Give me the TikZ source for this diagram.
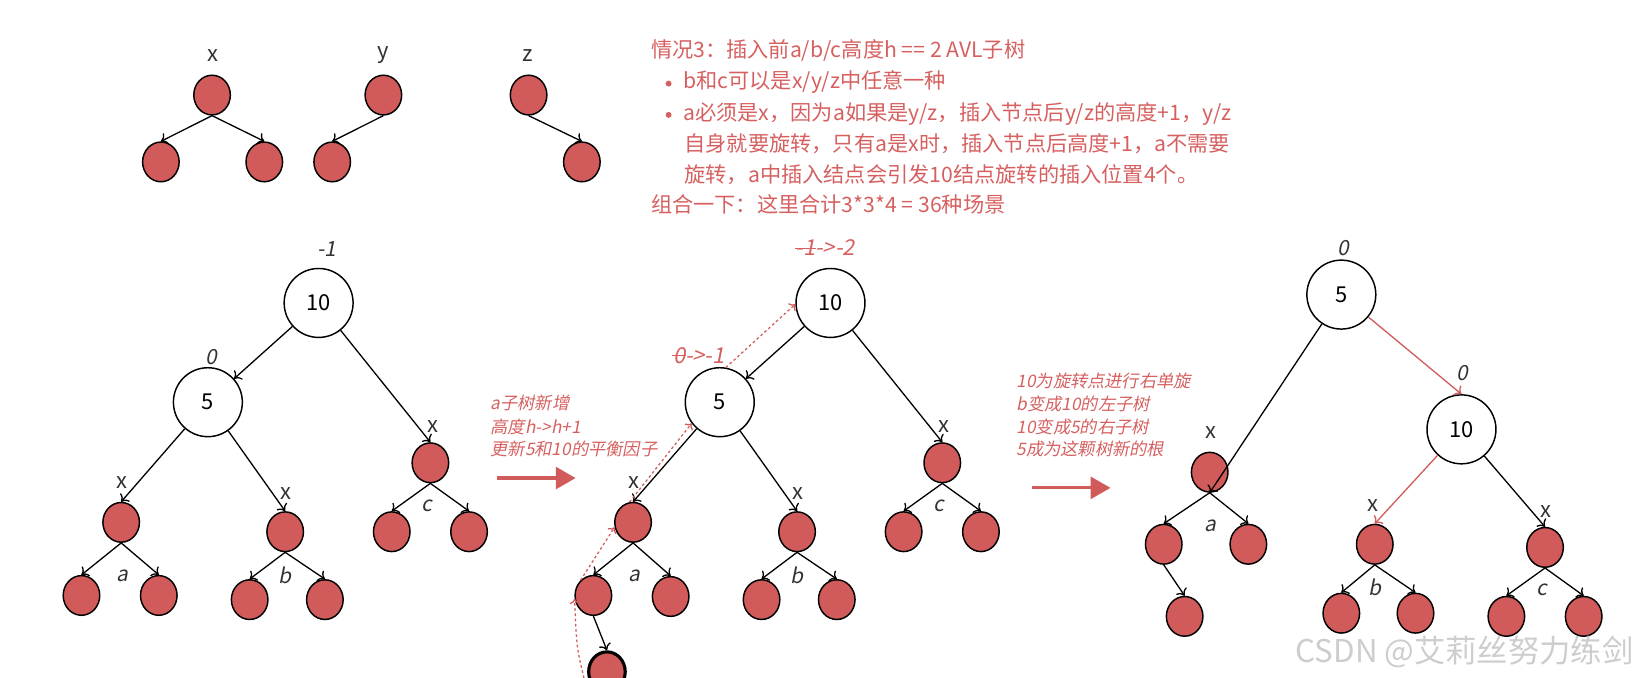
\documentclass[tikz,border=0pt]{standalone}
\usepackage{fontspec}
\setmainfont{Noto Sans CJK SC}
\newfontfamily\itf[FakeSlant=0.2]{Noto Sans CJK SC}
\usetikzlibrary{arrows.meta,shapes.geometric}
\definecolor{rd}{RGB}{209,91,91}
\definecolor{rdt}{RGB}{214,96,96}
\definecolor{dk}{RGB}{51,51,51}
\definecolor{wm}{RGB}{205,205,205}
\newcommand{\myfs}[1]{\fontsize{#1}{#1}\selectfont}
\newcommand{\mystrk}[1]{\setbox0\hbox{#1}\rlap{\kern-1pt\rule[0.3em]{\dimexpr\wd0+2pt\relax}{1.1pt}}\box0}
\begin{document}
\begin{tikzpicture}[x=1pt,y=-1pt,
  rn/.style={ellipse,draw=black,line width=1.4pt,fill=rd,minimum width=35pt,minimum height=38pt,inner sep=0pt},
  wn/.style={circle,draw=black,line width=1.4pt,fill=white,minimum size=66pt,inner sep=0pt,font=\myfs{21}},
  ed/.style={draw=black,line width=1.25pt,-{To[length=6pt,width=12pt]}},
  redge/.style={ed,draw=rd},
  dt/.style={draw=rd,line width=1.2pt,dash pattern=on 2.5pt off 2.5pt,-{To[length=5pt,width=10pt]}},
  lx/.style={inner sep=0pt,text=dk,font=\myfs{21}},
  li/.style={inner sep=0pt,text=dk,font=\itf\myfs{20}},
  lr/.style={inner sep=0pt,text=rdt,font=\itf\myfs{21}},
  tt/.style={inner sep=0pt,anchor=west,text=rdt,font=\myfs{20.3},text height=0.85em,text depth=0.12em},
  bul/.style={circle,fill=rdt,inner sep=0pt,minimum size=5.7pt},
  st/.style={inner sep=0pt,anchor=west,text=rdt,font=\itf\myfs{16.5},text height=0.85em,text depth=0.12em},
  bigarr/.style={draw=rd,line width=3pt,-{Triangle[length=19pt,width=21pt]}},
]
\useasboundingbox (0,0) rectangle (1568,649);
\clip (0,0) rectangle (1568,649);

% ---------- top small trees ----------
\node[lx] (tlx) at (204,53) {x};
\node[rn] (txr) at (203,91) {};
\node[rn] (txa) at (154,155) {};
\node[rn] (txb) at (253,155) {};
\node[lx] (tly) at (367,53) {y};
\node[rn] (tyr) at (367,91) {};
\node[rn] (tya) at (318,155) {};
\node[lx] (tlz) at (505,53) {z};
\node[rn] (tzr) at (506,91) {};
\node[rn] (tza) at (557,155) {};
\draw[ed] (txr.south) -- (txa.north);
\draw[ed] (txr.south) -- (txb.north);
\draw[ed] (tyr.south) -- (tya.north);
\draw[ed] (tzr.south) -- (tza.north);

% ---------- text block ----------
\node[tt] (t1) at (623,51) {情况3：插入前a/b/c高度h == 2 AVL子树};
\node[bul] (b1) at (640,80) {};
\node[tt] (t2) at (654,81.4) {b和c可以是x/y/z中任意一种};
\node[bul] (b2) at (640,110) {};
\node[tt] (t3) at (654,111.7) {a必须是x，因为a如果是y/z，插入节点后y/z的高度+1，y/z};
\node[tt] (t4) at (655,141) {自身就要旋转，只有a是x时，插入节点后高度+1，a不需要};
\node[tt] (t5) at (655,170.7) {旋转，a中插入结点会引发10结点旋转的插入位置4个。};
\node[tt] (t6) at (623,199.4) {组合一下：这里合计3*3*4 = 36种场景};

% ---------- left tree ----------
\node[li] (Ll10) at (313,238) {-1};
\node[wn] (L10) at (305,290) {10};
\node[li] (Ll5) at (202,342) {0};
\node[wn] (L5) at (199,385) {5};
\node[lx] (Lxa) at (117,462) {x};
\node[rn] (LaR) at (116,500) {};
\node[rn] (LaL1) at (78,570) {};
\node[rn] (LaL2) at (152,570) {};
\node[li] (Lla) at (117,551) {a};
\node[lx] (Lxb) at (274,472) {x};
\node[rn] (LbR) at (273,509) {};
\node[rn] (LbL1) at (239,574) {};
\node[rn] (LbL2) at (311,574) {};
\node[li] (Llb) at (273,551) {b};
\node[lx] (Lxc) at (414,408) {x};
\node[rn] (LcR) at (412,443) {};
\node[rn] (LcL1) at (375,509) {};
\node[rn] (LcL2) at (449,509) {};
\node[li] (Llc) at (409,484) {c};
\draw[ed] (L10) -- (L5);
\draw[ed] (L10) -- (LcR.north);
\draw[ed] (L5) -- (LaR.north);
\draw[ed] (L5) -- (LbR.north);
\draw[ed] (LaR.south) -- (LaL1.north);
\draw[ed] (LaR.south) -- (LaL2.north);
\draw[ed] (LbR.south) -- (LbL1.north);
\draw[ed] (LbR.south) -- (LbL2.north);
\draw[ed] (LcR.south) -- (LcL1.north);
\draw[ed] (LcR.south) -- (LcL2.north);

% ---------- middle text + arrow ----------
\node[st] (m1) at (469.5,388.7) {a子树新增};
\node[st] (m2) at (469.5,411) {高度h->h+1};
\node[st] (m3) at (469.5,432.4) {更新5和10的平衡因子};
\coordinate (ma1) at (476,457.6);
\coordinate (ma2) at (551,457.6);
\draw[bigarr] (ma1) -- (ma2);

% ---------- middle tree ----------
\node[lr] (Ml10) at (790,237) {\mystrk{-1}->-2};
\node[wn] (M10) at (795,290) {10};
\node[lr] (Ml5) at (669,340) {\mystrk{0}->-1};
\node[wn] (M5) at (689,385) {5};
\node[lx] (Mxa) at (607,462) {x};
\node[rn] (MaR) at (606,500) {};
\node[rn] (MaL1) at (568,570) {};
\node[rn] (MaL2) at (642,571) {};
\node[li] (Mla) at (607,551) {a};
\node[rn,line width=3pt] (Mnew) at (581,643) {};
\node[lx] (Mxb) at (764,472) {x};
\node[rn] (MbR) at (763,509) {};
\node[rn] (MbL1) at (729,574) {};
\node[rn] (MbL2) at (801,574) {};
\node[li] (Mlb) at (763,551) {b};
\node[lx] (Mxc) at (904,408) {x};
\node[rn] (McR) at (902,443) {};
\node[rn] (McL1) at (865,509) {};
\node[rn] (McL2) at (939,509) {};
\node[li] (Mlc) at (899,484) {c};
\draw[ed] (M10) -- (M5);
\draw[ed] (M10) -- (McR.north);
\draw[ed] (M5) -- (MaR.north);
\draw[ed] (M5) -- (MbR.north);
\draw[ed] (MaR.south) -- (MaL1.north);
\draw[ed] (MaR.south) -- (MaL2.north);
\draw[ed] (MaL1.south) -- (Mnew.north);
\draw[ed] (MbR.south) -- (MbL1.north);
\draw[ed] (MbR.south) -- (MbL2.north);
\draw[ed] (McR.south) -- (McL1.north);
\draw[ed] (McR.south) -- (McL2.north);
\coordinate (ds) at (559,649);
\draw[dt] (ds) .. controls (552,620) .. (MaL1.190);
\draw[dt] (MaL1.130) -- (MaR.195);
\draw[dt] (MaR.100) -- (M5.217);
\draw[dt] (M5.80) -- (M10.182);

% ---------- right text + arrow ----------
\node[st] (r1) at (973,367) {10为旋转点进行右单旋};
\node[st] (r2) at (973,389) {b变成10的左子树};
\node[st] (r3) at (973,411) {10变成5的右子树};
\node[st] (r4) at (973,432.4) {5成为这颗树新的根};
\coordinate (ra1) at (988,467);
\coordinate (ra2) at (1063,467);
\draw[bigarr] (ra1) -- (ra2);

% ---------- right tree ----------
\node[li] (Rl5) at (1286,237) {0};
\node[wn] (R5) at (1284,282) {5};
\node[li] (Rl10) at (1400,357) {0};
\node[wn] (R10) at (1399,411) {10};
\node[lx] (Rxa) at (1159,414) {x};
\node[rn] (Ra) at (1158,452) {};
\node[rn] (RaL1) at (1114,521) {};
\node[rn] (RaL2) at (1195,521) {};
\node[li] (Rla) at (1159,503) {a};
\node[rn] (RaC) at (1134,590) {};
\node[lx] (Rxb) at (1314,484) {x};
\node[rn] (Rb) at (1316,521) {};
\node[rn] (RbL1) at (1284,587) {};
\node[rn] (RbL2) at (1355,587) {};
\node[li] (Rlb) at (1316,562) {b};
\node[lx] (Rxc) at (1480,490) {x};
\node[rn] (Rc) at (1479,524) {};
\node[rn] (RcL1) at (1442,590) {};
\node[rn] (RcL2) at (1516,590) {};
\node[li] (Rlc) at (1476,565) {c};
\draw[ed] (R5) -- (Ra.south);
\draw[redge] (R5) -- (R10.north);
\draw[redge] (R10) -- (Rb.north);
\draw[ed] (R10) -- (Rc.north);
\draw[ed] (Ra.south) -- (RaL1.north);
\draw[ed] (Ra.south) -- (RaL2.north);
\draw[ed] (RaL1.south) -- (RaC.north);
\draw[ed] (Rb.south) -- (RbL1.north);
\draw[ed] (Rb.south) -- (RbL2.north);
\draw[ed] (Rc.south) -- (RcL1.north);
\draw[ed] (Rc.south) -- (RcL2.north);

% ---------- watermark ----------
\node[inner sep=0pt,anchor=west,text=wm,font=\myfs{30}] (wmk) at (1240,624) {CSDN @艾莉丝努力练剑};
\end{tikzpicture}
\end{document}
